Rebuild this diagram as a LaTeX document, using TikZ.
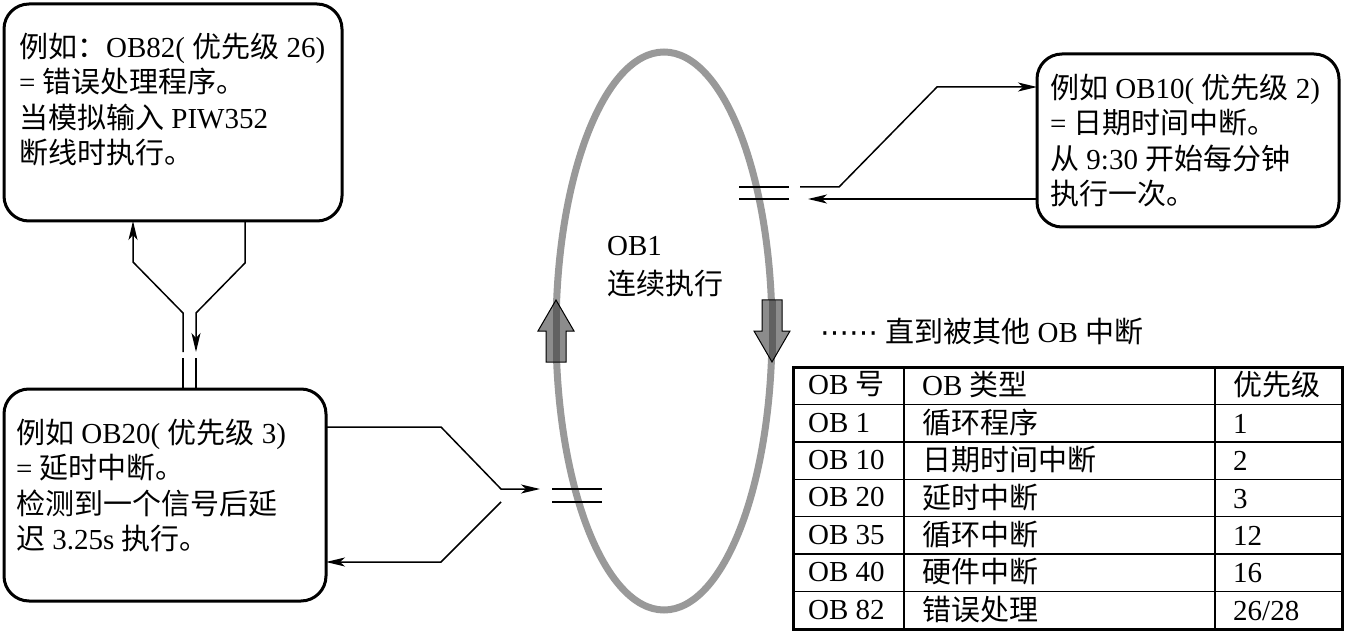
\documentclass[tikz,border=0pt]{standalone}
\usepackage{fontspec}
\setmainfont{Liberation Serif}
\newfontfamily\cjkfont{Noto Sans CJK SC}
\newfontfamily\symfont{DejaVu Sans}
\newcommand{\zh}[1]{{\cjkfont #1}}
\usepackage{tikz}
\usetikzlibrary{arrows.meta, positioning, shapes.geometric}

\definecolor{loopgray}{gray}{0.6}
\definecolor{arrowgray}{gray}{0.55}
\definecolor{stripegray}{gray}{0.38}

\begin{document}
\begin{tikzpicture}[
  x=1pt, y=-1pt,
  every node/.style={font=\fontsize{29}{35.5}\selectfont},
  obbox/.style={draw, line width=3pt, rounded corners=25pt, anchor=north west, inner sep=0pt, outer sep=0pt},
  obtext/.style={align=left, inner sep=0pt},
  tabcol/.style={align=left, inner sep=0pt, anchor=north west, font=\fontsize{29}{37.43}\selectfont},
  link/.style={line width=1.5pt},
  flow/.style={link, -{Stealth[length=19pt, width=9pt, inset=5pt]}},
  gridline/.style={line width=1.5pt},
]
\useasboundingbox (0,0) rectangle (1345,631);

% Interrupt boxes
\node[obbox, minimum width=338pt, minimum height=217pt] (ob82) at (4,4) {};
\node[obbox, minimum width=302pt, minimum height=173pt] (ob10) at (1037,54) {};
\node[obbox, minimum width=322pt, minimum height=212pt] (ob20) at (4,389) {};

\node[obtext, below right=28.5pt and 15pt of ob82.north west] (ob82txt)
  {\zh{例如：}OB82( \zh{优先级} 26)\\= \zh{错误处理程序。}\\\zh{当模拟输入} PIW352\\\zh{断线时执行。}};
\node[obtext, below right=19.5pt and 13pt of ob10.north west] (ob10txt)
  {\zh{例如} OB10( \zh{优先级} 2)\\= \zh{日期时间中断。}\\\zh{从} 9:30 \zh{开始每分钟}\\\zh{执行一次。}};
\node[obtext, below right=29.5pt and 12pt of ob20.north west] (ob20txt)
  {\zh{例如} OB20( \zh{优先级} 3)\\= \zh{延时中断。}\\\zh{检测到一个信号后延}\\\zh{迟} 3.25s \zh{执行。}};

% Main cycle OB1
\node[draw=loopgray, line width=7pt, ellipse, minimum width=216pt, minimum height=558pt, inner sep=0pt, outer sep=0pt] (ob1) at (664,331) {};
\node[obtext, anchor=north west, font=\fontsize{29}{39}\selectfont] (ob1txt) at (607,236.5) {OB1\\\zh{连续执行}};

% Break marks where the interrupts cut in
\draw[link] (739,187) -- (789,187) (739,199) -- (789,199);
\draw[link] (552,489) -- (602,489) (552,502) -- (602,502);

% Direction of the cycle
\begin{scope}[shift={(ob1.west)}]
  \begin{scope}
    \clip (-10,31) -- (-10,0) -- (-18,0) -- (0,-31) -- (18,0) -- (10,0) -- (10,31) -- cycle;
    \fill[arrowgray] (-18,-31) rectangle (18,31);
    \fill[stripegray] (-3.5,-31) rectangle (3.5,31);
  \end{scope}
  \draw[line width=1pt] (-10,31) -- (-10,0) -- (-18,0) -- (0,-31) -- (18,0) -- (10,0) -- (10,31) -- cycle;
\end{scope}
\begin{scope}[shift={(ob1.east)}]
  \begin{scope}
    \clip (-10,-31) -- (-10,0) -- (-18,0) -- (0,31) -- (18,0) -- (10,0) -- (10,-31) -- cycle;
    \fill[arrowgray] (-18,-31) rectangle (18,31);
    \fill[stripegray] (-3.5,-31) rectangle (3.5,31);
  \end{scope}
  \draw[line width=1pt] (-10,-31) -- (-10,0) -- (-18,0) -- (0,31) -- (18,0) -- (10,0) -- (10,-31) -- cycle;
\end{scope}

\node[anchor=west, inner sep=0pt] (untilnote) at (820,332) {{\symfont ⋯⋯} \zh{直到被其他} OB \zh{中断}};

% Priority table
\node[draw, line width=3pt, minimum width=549pt, minimum height=262pt, anchor=north west, inner sep=0pt, outer sep=0pt] (obtable) at (793,367) {};
\draw[gridline] (904,367) -- (904,629) (1215,367) -- (1215,629);
\draw[gridline] (793,404.4) -- (1342,404.4) (793,441.9) -- (1342,441.9) (793,479.3) -- (1342,479.3)
  (793,516.7) -- (1342,516.7) (793,554.1) -- (1342,554.1) (793,591.6) -- (1342,591.6);
\node[tabcol] (colno) at (808,371.2) {OB \zh{号}\\OB 1\\OB 10\\OB 20\\OB 35\\OB 40\\OB 82};
\node[tabcol] (coltype) at (922,371.2) {OB \zh{类型}\\\zh{循环程序}\\\zh{日期时间中断}\\\zh{延时中断}\\\zh{循环中断}\\\zh{硬件中断}\\\zh{错误处理}};
\node[tabcol] (colprio) at (1233,371.2) {\zh{优先级}\\1\\2\\3\\12\\16\\26/28};

% Links: free ends at the breaks
\coordinate (o10out) at (800,187);
\coordinate (o10in) at (808,199);
\coordinate (o20out) at (540,489);
\coordinate (o20in) at (501,502);
\coordinate (o82up) at (183,352);
\coordinate (o82dn) at (196,352);
\coordinate (g82a) at (183,358);
\coordinate (g82b) at (196,358);

\draw[flow] (o10out) -- (839,187) -- (937,87) -- (ob10.west |- 0,87);
\draw[flow] (ob10.west |- o10in) -- (o10in);
\draw[flow] (ob20.east |- 0,427) -- (441,427) -- (501,489) -- (o20out);
\draw[flow] (o20in) -- (441,562) -- (ob20.east |- 0,562);
\draw[flow] (o82up) -- (183,313) -- (133,262) -- (ob82.south -| 133,0);
\draw[flow] (ob82.south -| 245,0) -- (245,263) -- (196,313) -- (o82dn);
\draw[link] (g82a) -- (g82a |- ob20.north);
\draw[link] (g82b) -- (g82b |- ob20.north);

\end{tikzpicture}
\end{document}
